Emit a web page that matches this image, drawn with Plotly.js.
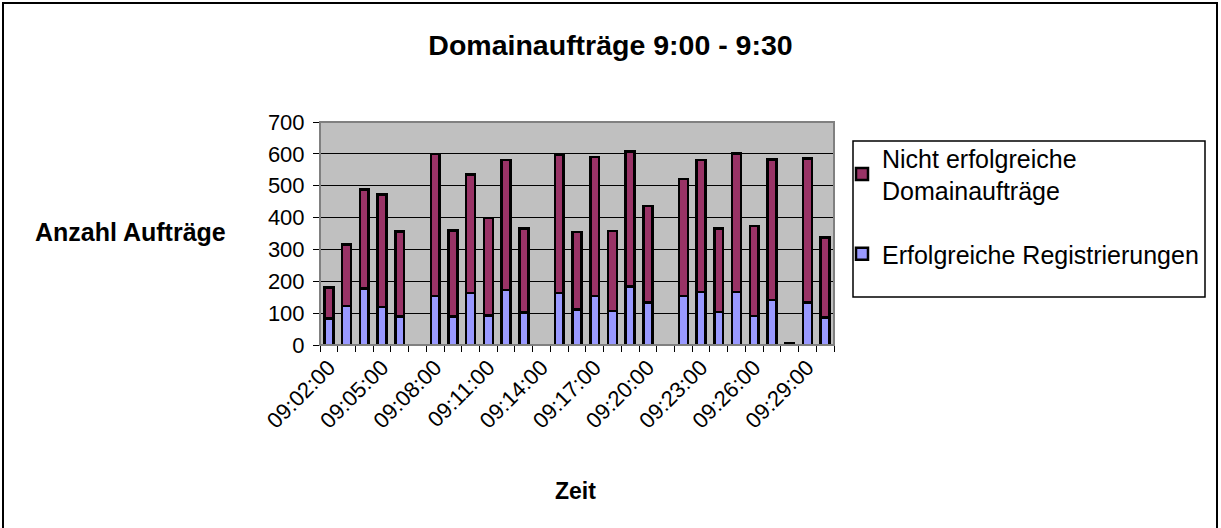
<!DOCTYPE html>
<html>
<head>
<meta charset="utf-8">
<script src="https://cdn.plot.ly/plotly-3.0.1.min.js"></script>
<style>
html,body{margin:0;padding:0;background:#fff;}
#chart{width:1221px;height:528px;}
</style>
</head>
<body>
<div id="chart"></div>
<script>
var categories = ["09:02:00","09:03:00","09:04:00","09:05:00","09:06:00","09:07:00","09:08:00","09:09:00","09:10:00","09:11:00","09:12:00","09:13:00","09:14:00","09:15:00","09:16:00","09:17:00","09:18:00","09:19:00","09:20:00","09:21:00","09:22:00","09:23:00","09:24:00","09:25:00","09:26:00","09:27:00","09:28:00","09:29:00","09:30:00"];
var erfolgreich = [83,123,177,119,89,null,154,89,163,93,173,102,null,163,112,154,107,183,133,null,154,167,104,167,91,141,3,133,86];
var nichtErfolgreich = [97,193,311,354,267,null,445,271,373,305,407,264,null,434,243,436,251,424,304,null,367,413,261,434,282,442,3,453,252];
var tickLabels = ["09:02:00","09:05:00","09:08:00","09:11:00","09:14:00","09:17:00","09:20:00","09:23:00","09:26:00","09:29:00"];

var ticktext = categories.map(function(c){ return tickLabels.indexOf(c) >= 0 ? c : ""; });

var FONT = "Liberation Sans, Arial, sans-serif";
var L = 320, R = 834, T = 122, B = 345;
function px(x){ return (x - L) / (R - L); }
function py(y){ return (B - y) / (B - T); }

var traces = [
  {type:"bar", name:"Erfolgreiche Registrierungen", x:categories, y:erfolgreich,
   marker:{color:"#9999FF", line:{color:"#000", width:2.5}}, legendgroup:"a", legendrank:2},
  {type:"bar", name:"Nicht erfolgreiche<br>Domainaufträge", x:categories, y:nichtErfolgreich,
   marker:{color:"#993366", line:{color:"#000", width:2.5}}, legendgroup:"b", legendrank:1}
];

var layout = {
  width:1221, height:528,
  margin:{l:L, r:1221-R, t:T, b:528-B, pad:0},
  paper_bgcolor:"#fff", plot_bgcolor:"#C0C0C0",
  barmode:"stack", bargap:0.5,
  font:{family:FONT, color:"#000", size:22},
  title:{text:"<b>Domainaufträge 9:00 - 9:30</b>", font:{family:FONT, size:28.5, color:"#000"},
         x:0.5, xref:"container", y:1-45/528, yref:"container", xanchor:"center", yanchor:"middle"},
  xaxis:{type:"category", range:[-0.5, 28.5], tickmode:"array", tickvals:categories, ticktext:ticktext,
         tickson:"boundaries", ticks:"outside", ticklen:6, tickcolor:"#000", tickwidth:1,
         tickangle:-45, tickfont:{family:FONT, size:22, color:"#000"},
         showline:true, linecolor:"#000", linewidth:1, showgrid:false, zeroline:false, fixedrange:true},
  yaxis:{range:[0,700], dtick:100, tick0:0, ticks:"outside", ticklen:6, tickcolor:"#000",
         ticklabelstandoff:4,
         tickfont:{family:FONT, size:22, color:"#000"},
         showline:true, linecolor:"#000", linewidth:1, showgrid:true, gridcolor:"#000", gridwidth:1,
         zeroline:false, fixedrange:true},
  legend:{x:px(842), y:py(135), xanchor:"left", yanchor:"top", bgcolor:"rgba(0,0,0,0)",
          borderwidth:0, font:{family:FONT, size:25, color:"#000"},
          traceorder:"grouped", tracegroupgap:28, itemwidth:30},
  showlegend:true,
  annotations:[
    {text:"<b>Anzahl Aufträge</b>", xref:"paper", yref:"paper", x:px(130), y:py(232),
     showarrow:false, font:{family:FONT, size:25, color:"#000"}, xanchor:"center", yanchor:"middle"},
    {text:"<b>Zeit</b>", xref:"paper", yref:"paper", x:px(575), y:py(491),
     showarrow:false, font:{family:FONT, size:23, color:"#000"}, xanchor:"center", yanchor:"middle"}
  ],
  shapes:[
    {type:"rect", xref:"paper", yref:"paper", x0:0, x1:1, y0:0, y1:1, line:{color:"#808080", width:2}, layer:"above"},
    {type:"rect", xref:"paper", yref:"paper", x0:px(853), x1:px(1205), y0:py(141), y1:py(297), line:{color:"#000", width:1.5}},
    {type:"rect", xref:"paper", yref:"paper", x0:px(3), x1:px(1217), y0:py(3), y1:py(540), line:{color:"#000", width:2}}
  ]
};

Plotly.newPlot("chart", traces, layout, {displayModeBar:false, staticPlot:true});
</script>
</body>
</html>
